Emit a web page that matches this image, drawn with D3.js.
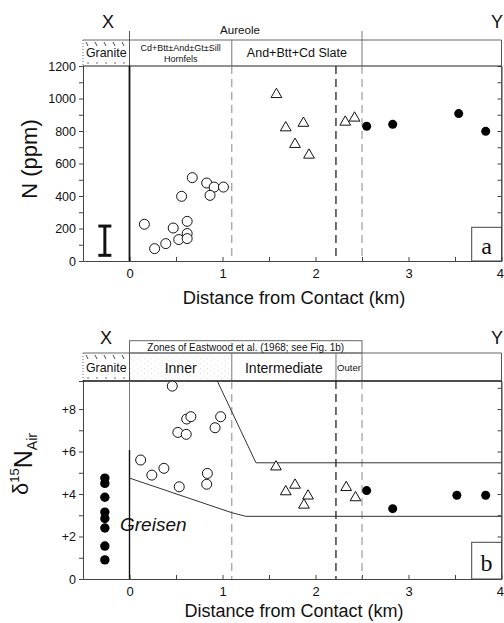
<!DOCTYPE html>
<html>
<head>
<meta charset="utf-8">
<script src="https://cdn.jsdelivr.net/npm/d3@7"></script>
<style>
  body { margin: 0; background: #fff; }
  svg { display: block; font-family: "Liberation Sans", Arial, sans-serif; }
</style>
</head>
<body>
<svg id="chart" width="504" height="623"></svg>
<script>
// ---- data: [distance km, value] ----
// panel a: N (ppm)
const hornfelsN = [[0.16,226],[0.27,76],[0.39,107],[0.47,203],[0.53,132],[0.56,398],[0.62,244],[0.62,169],[0.62,138],[0.675,513],[0.83,480],[0.91,455],[0.866,404],[1.01,455]];
const slateN = [[1.58,1025],[1.68,820],[1.87,848],[1.78,718],[1.93,652],[2.32,855],[2.42,880]];
const outsideN = [[2.55,829],[2.83,841],[3.54,907],[3.83,798]];
const errBarN = [-0.265, 35, 215]; // x, low, high

// panel b: d15N air
const hornfelsD = [[0.46,9.08],[0.12,5.6],[0.24,4.89],[0.37,5.21],[0.535,4.34],[0.52,6.9],[0.61,6.81],[0.615,7.53],[0.66,7.64],[0.92,7.12],[0.98,7.64],[0.837,4.97],[0.83,4.46]];
const slateD = [[1.575,5.28],[1.68,4.11],[1.78,4.42],[1.92,3.91],[1.876,3.48],[2.33,4.31],[2.43,3.83]];
const outsideD = [[2.55,4.16],[2.83,3.31],[3.52,3.94],[3.83,3.94]];
const greisenX = -0.265;
const greisenD = [4.75,4.5,3.85,3.15,2.85,2.4,1.55,0.9];
const upperEnvelope = [[0.944,9.32],[1.36,5.47],[4,5.47]];
const lowerEnvelope = [[0,4.75],[1.1,3.12],[1.25,2.95],[4,2.95]];

// zone boundaries (km)
const edgeInner = 1.1, edgeMid = 2.22, edgeOuter = 2.5;
const xTicks = d3.range(-0.5, 4.01, 0.5);

const svg = d3.select("#chart");
const x = d3.scaleLinear().domain([-0.5, 4]).range([83, 501.5]);
const yA = d3.scaleLinear().domain([0, 1200]).range([261, 66]);
const yB = d3.scaleLinear().domain([0, 9.32]).range([579, 381]);

// patterns
const defs = svg.append("defs");
function granitePattern(id, top, h) {
  const p = defs.append("pattern").attr("id", id)
    .attr("patternUnits", "userSpaceOnUse")
    .attr("width", 9).attr("height", h)
    .attr("patternTransform", `translate(84,${top})`);
  p.append("line").attr("x1", 2).attr("y1", 2).attr("x2", 4).attr("y2", 6)
    .attr("stroke", "#333").attr("stroke-width", 0.9);
  p.append("circle").attr("cx", 4).attr("cy", h - 3).attr("r", 0.7).attr("fill", "#333");
}
granitePattern("graniteA", 40, 26);
granitePattern("graniteB", 353, 28);
const st = defs.append("pattern").attr("id", "stipple")
  .attr("patternUnits", "userSpaceOnUse").attr("width", 7).attr("height", 5);
st.append("circle").attr("cx", 1).attr("cy", 1).attr("r", 0.45).attr("fill", "#aaa");
st.append("circle").attr("cx", 4.5).attr("cy", 3.5).attr("r", 0.45).attr("fill", "#bbb");

function vline(xv, y1, y2, color, w, dash) {
  svg.append("line")
    .attr("x1", x(xv)).attr("x2", x(xv)).attr("y1", y1).attr("y2", y2)
    .attr("stroke", color).attr("stroke-width", w)
    .attr("stroke-dasharray", dash || null);
}
function label(txt, xp, yp, size, anchor, extra) {
  const t = svg.append("text").attr("x", xp).attr("y", yp)
    .attr("font-size", size).attr("text-anchor", anchor || "middle")
    .attr("fill", "#111").text(txt);
  if (extra) extra(t);
  return t;
}

// axes for one panel
function drawAxes(y, bottom, leftTicks, leftFmt, rightTicks) {
  const ax = svg.append("g").attr("transform", `translate(0,${bottom})`)
    .call(d3.axisBottom(x).tickValues(xTicks).tickSizeInner(-4).tickSizeOuter(0).tickPadding(8)
      .tickFormat(d => Number.isInteger(d) && d >= 0 ? d : ""));
  const ay = svg.append("g").attr("transform", `translate(${x(-0.5)},0)`)
    .call(d3.axisLeft(y).tickValues(leftTicks).tickSize(4).tickPadding(3).tickFormat(leftFmt));
  const ar = svg.append("g").attr("transform", `translate(${x(4)},0)`)
    .call(d3.axisRight(y).tickValues(rightTicks).tickSizeInner(-4).tickSizeOuter(0).tickFormat(""));
  [ax, ay, ar].forEach(g => {
    g.attr("color", "#444");
    g.selectAll("text").attr("fill", "#111").attr("font-size", 13)
      .attr("font-family", "Liberation Sans, Arial, sans-serif");
  });
  ay.selectAll("text").attr("font-size", 12.5);
  // last label "4" sits on the right edge; keep it inside the page
  ax.selectAll(".tick text").filter(d => d === 4)
    .attr("text-anchor", "end").attr("x", 2);
}

// ================= panel a =================
drawAxes(yA, 261, d3.range(0, 1201, 100), d => d % 200 === 0 ? d : "", d3.range(0, 1201, 100));

// header
svg.append("rect").attr("x", x(-0.5)).attr("y", 40).attr("width", x(0) - x(-0.5)).attr("height", 26)
  .attr("fill", "url(#graniteA)");
svg.append("line").attr("x1", x(-0.5)).attr("x2", x(4)).attr("y1", 40).attr("y2", 40)
  .attr("stroke", "#666").attr("stroke-width", 1);
svg.append("line").attr("x1", x(-0.5)).attr("x2", x(-0.5)).attr("y1", 40).attr("y2", 66)
  .attr("stroke", "#666").attr("stroke-dasharray", "1,2");
vline(4, 40, 261, "#555", 1);
vline(edgeInner, 40, 66, "#777", 1);
vline(edgeOuter, 31, 66, "#777", 1);
vline(0, 31, 66, "#555", 1);
svg.append("line").attr("x1", x(-0.5)).attr("x2", x(4)).attr("y1", 66).attr("y2", 66)
  .attr("stroke", "#222").attr("stroke-width", 1.2);

// zone boundaries in the plot
vline(0, 66, 261, "#111", 1.8);
vline(edgeInner, 66, 261, "#888", 1, "8,5");
vline(edgeMid, 66, 261, "#111", 1.2, "8,5");
vline(edgeOuter, 66, 261, "#888", 1, "8,5");

label("X", 108, 28, 18);
label("Y", 491, 28, 18, "start");
label("Aureole", 240, 34, 11.6);
label("Granite", (x(-0.5) + x(0)) / 2, 57, 12.4);
label("Cd+Btt\u00b1And\u00b1Gt\u00b1Sill", (x(0) + x(edgeInner)) / 2, 51, 9);
label("Hornfels", (x(0) + x(edgeInner)) / 2, 62, 9);
label("And+Btt+Cd Slate", (x(edgeInner) + x(edgeOuter)) / 2, 57, 12.5);

// error bar
const eb = svg.append("g").attr("stroke", "#111");
eb.append("line").attr("x1", x(errBarN[0])).attr("x2", x(errBarN[0]))
  .attr("y1", yA(errBarN[1])).attr("y2", yA(errBarN[2])).attr("stroke-width", 3);
[errBarN[1], errBarN[2]].forEach(v => {
  eb.append("line").attr("x1", x(errBarN[0]) - 6.5).attr("x2", x(errBarN[0]) + 6.5)
    .attr("y1", yA(v)).attr("y2", yA(v)).attr("stroke-width", 3);
});

// points
function openCircles(data, y) {
  svg.append("g").selectAll("circle").data(data).join("circle")
    .attr("cx", d => x(d[0])).attr("cy", d => y(d[1])).attr("r", 5)
    .attr("fill", "#fff").attr("stroke", "#111").attr("stroke-width", 1);
}
function triangles(data, y) {
  const sym = d3.symbol(d3.symbolTriangle, 50);
  svg.append("g").selectAll("path").data(data).join("path")
    .attr("d", sym).attr("transform", d => `translate(${x(d[0])},${y(d[1])})`)
    .attr("fill", "#fff").attr("stroke", "#111").attr("stroke-width", 1);
}
function dots(data, y, r) {
  svg.append("g").selectAll("circle").data(data).join("circle")
    .attr("cx", d => x(d[0])).attr("cy", d => y(d[1])).attr("r", r)
    .attr("fill", "#000");
}
openCircles(hornfelsN, yA);
triangles(slateN, yA);
dots(outsideN, yA, 4.5);

// panel tag
svg.append("rect").attr("x", 471.7).attr("y", 227.3).attr("width", x(4) - 471.7).attr("height", 261 - 227.3)
  .attr("fill", "#fff").attr("stroke", "#444");
label("a", 486.5, 254, 24, "middle", t => t.attr("font-family", "Liberation Serif, Times New Roman, serif"));

label("Distance from Contact (km)", 294, 304, 18.3);

svg.append("text").attr("transform", "translate(36.5,159) rotate(-90)")
  .attr("text-anchor", "middle").attr("font-size", 22).attr("fill", "#111").text("N (ppm)");

// ================= panel b =================
drawAxes(yB, 579, d3.range(0, 9, 1), d => d % 2 === 0 ? (d === 0 ? "0" : "+" + d) : "", d3.range(0, 10, 1));

svg.append("rect").attr("x", x(0)).attr("y", 340.7).attr("width", x(edgeOuter) - x(0)).attr("height", 12.3)
  .attr("fill", "none").attr("stroke", "#666");
svg.append("rect").attr("x", x(-0.5)).attr("y", 353).attr("width", x(0) - x(-0.5)).attr("height", 28)
  .attr("fill", "url(#graniteB)");
svg.append("rect").attr("x", x(0)).attr("y", 353).attr("width", x(edgeInner) - x(0)).attr("height", 28)
  .attr("fill", "url(#stipple)");
svg.append("rect").attr("x", x(edgeMid)).attr("y", 353).attr("width", x(edgeOuter) - x(edgeMid)).attr("height", 28)
  .attr("fill", "url(#stipple)");
svg.append("line").attr("x1", x(-0.5)).attr("x2", x(4)).attr("y1", 353).attr("y2", 353)
  .attr("stroke", "#666").attr("stroke-width", 1);
svg.append("line").attr("x1", x(-0.5)).attr("x2", x(-0.5)).attr("y1", 353).attr("y2", 381)
  .attr("stroke", "#666").attr("stroke-dasharray", "1,2");
vline(4, 353, 579, "#555", 1);
vline(edgeInner, 353, 381, "#777", 1);
vline(edgeMid, 353, 381, "#777", 1);
vline(edgeOuter, 353, 381, "#777", 1);
vline(0, 353, 381, "#555", 1);
svg.append("line").attr("x1", x(-0.5)).attr("x2", x(4)).attr("y1", 381).attr("y2", 381)
  .attr("stroke", "#111").attr("stroke-width", 1.6);

vline(0, 381, 450, "#777", 1);
vline(0, 450, 579, "#111", 1.4);
vline(edgeInner, 381, 579, "#888", 1, "8,5");
vline(edgeMid, 381, 579, "#111", 1.2, "8,5");
vline(edgeOuter, 381, 579, "#888", 1, "8,5");

label("X", 106, 344, 18);
label("Y", 491, 344, 18, "start");
label("Zones of Eastwood et al. (1968; see Fig. 1b)", (x(0) + x(edgeOuter)) / 2, 351, 10);
label("Granite", (x(-0.5) + x(0)) / 2, 372, 12.4);
label("Inner", (x(0) + x(edgeInner)) / 2, 373, 14);
label("Intermediate", (x(edgeInner) + x(edgeMid)) / 2, 373, 14);
label("Outer", (x(edgeMid) + x(edgeOuter)) / 2, 371, 9.5);

// envelope lines
const line = d3.line().x(d => x(d[0])).y(d => yB(d[1]));
[upperEnvelope, lowerEnvelope].forEach(env => {
  svg.append("path").attr("d", line(env)).attr("fill", "none")
    .attr("stroke", "#333").attr("stroke-width", 1);
});

openCircles(hornfelsD, yB);
triangles(slateD, yB);
dots(outsideD, yB, 4.5);
dots(greisenD.map(v => [greisenX, v]), yB, 4.7);

label("Greisen", 120, 531, 19, "start", t => t.attr("font-style", "italic"));

svg.append("rect").attr("x", 471.7).attr("y", 542.3).attr("width", x(4) - 471.7).attr("height", 579 - 542.3)
  .attr("fill", "#fff").attr("stroke", "#444");
label("b", 486.5, 571, 24, "middle", t => t.attr("font-family", "Liberation Serif, Times New Roman, serif"));

label("Distance from Contact (km)", 294, 617, 18);

const yt = svg.append("text").attr("transform", "translate(32,464) rotate(-90)")
  .attr("text-anchor", "middle").attr("fill", "#111");
yt.append("tspan").attr("font-size", 22).attr("dy", -4).text("\u03b4");
yt.append("tspan").attr("font-size", 13).attr("dy", -9).text("15");
yt.append("tspan").attr("font-size", 25).attr("dy", 13).text("N");
yt.append("tspan").attr("font-size", 14).attr("dy", 5).text("Air");
</script>
</body>
</html>
